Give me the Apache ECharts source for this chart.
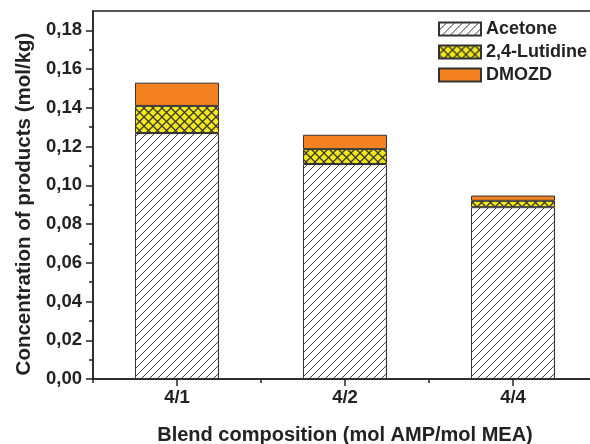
<!DOCTYPE html>
<html>
<head>
<meta charset="utf-8">
<script src="https://cdn.jsdelivr.net/npm/echarts@6/dist/echarts.min.js"></script>
<style>html,body{margin:0;padding:0;background:#fff;overflow:hidden;width:590px;height:444px}#c{width:597px;height:444px}</style>
</head>
<body>
<div id="c"></div>
<script>
const categories = ['4/1', '4/2', '4/4'];
const acetone = [0.127, 0.111, 0.0887];
const lutidine = [0.014, 0.0077, 0.0033];
const dmozd = [0.012, 0.0074, 0.0027];
const yTicks = [0, 0.02, 0.04, 0.06, 0.08, 0.10, 0.12, 0.14, 0.16, 0.18];

function hatch() {
  const s = 8, c = document.createElement('canvas');
  c.width = s; c.height = s;
  const g = c.getContext('2d');
  g.fillStyle = '#fff'; g.fillRect(0, 0, s, s);
  g.strokeStyle = '#3a3a3a'; g.lineWidth = 1;
  g.beginPath();
  g.moveTo(-1, s + 1); g.lineTo(s + 1, -1);
  g.moveTo(-1, 1); g.lineTo(1, -1);
  g.moveTo(s - 1, s + 1); g.lineTo(s + 1, s - 1);
  g.stroke();
  return c;
}
function cross() {
  const s = 9, c = document.createElement('canvas');
  c.width = s; c.height = s;
  const g = c.getContext('2d');
  g.fillStyle = '#f2e81c'; g.fillRect(0, 0, s, s);
  g.strokeStyle = '#3a3a2a'; g.lineWidth = 1.3;
  g.beginPath();
  g.moveTo(-1, s + 1); g.lineTo(s + 1, -1);
  g.moveTo(-1, -1); g.lineTo(s + 1, s + 1);
  g.stroke();
  return c;
}

const FONT = 'Liberation Sans, Arial, sans-serif';
const chart = echarts.init(document.getElementById('c'), null, {renderer: 'canvas'});
const border = {borderColor: '#333', borderWidth: 1};
chart.setOption({
  animation: false,
  backgroundColor: '#fff',
  grid: {left: 93, top: 11, right: 0, bottom: 65, outerBoundsMode: 'none', containLabel: false,
    show: true, borderColor: '#222', borderWidth: 1.5},
  legend: {
    orient: 'vertical', left: 433, top: 15, itemWidth: 42, itemHeight: 13, itemGap: 5,
    icon: 'rect',
    textStyle: {fontFamily: FONT, fontWeight: 'bold', fontSize: 18, color: '#222'},
    data: ['Acetone', '2,4-Lutidine', 'DMOZD']
  },
  xAxis: [{
    type: 'category', data: categories,
    name: 'Blend composition (mol AMP/mol MEA)', nameLocation: 'middle', nameGap: 46,
    nameTextStyle: {fontFamily: FONT, fontWeight: 'bold', fontSize: 20, color: '#222'},
    axisLine: {lineStyle: {color: '#222', width: 1.5}},
    axisTick: {show: true, alignWithLabel: true, length: 7, lineStyle: {color: '#222', width: 1.5}},
    axisLabel: {margin: 9, fontFamily: FONT, fontWeight: 'bold', fontSize: 18.5, color: '#222'}
  }, {
    type: 'category', data: categories, position: 'bottom',
    axisLine: {show: false},
    axisTick: {show: true, length: 4, lineStyle: {color: '#222', width: 1.5}},
    axisLabel: {show: false}
  }],
  yAxis: {
    type: 'value', min: 0, max: 0.19, interval: 0.02,
    name: 'Concentration of products (mol/kg)', nameLocation: 'middle', nameGap: 51,
    nameTextStyle: {fontFamily: FONT, fontWeight: 'bold', fontSize: 20.5, color: '#222', padding: [0, 18, 0, 0]},
    splitLine: {show: false},
    axisLine: {show: true, lineStyle: {color: '#222', width: 1.5}},
    axisTick: {show: true, length: 7, customValues: yTicks, lineStyle: {color: '#222', width: 1.5}},
    minorTick: {show: true, splitNumber: 2, length: 4, lineStyle: {color: '#222', width: 1.5}},
    axisLabel: {margin: 11, customValues: yTicks, fontFamily: FONT, fontWeight: 'bold', fontSize: 18.5, color: '#222',
      formatter: v => v.toFixed(2).replace('.', ',')}
  },
  series: [
    {name: 'Acetone', type: 'bar', stack: 's', barWidth: '50%', data: acetone,
     itemStyle: Object.assign({color: {image: hatch(), repeat: 'repeat'}}, border)},
    {name: '2,4-Lutidine', type: 'bar', stack: 's', barWidth: '50%', data: lutidine,
     itemStyle: Object.assign({color: {image: cross(), repeat: 'repeat'}}, border)},
    {name: 'DMOZD', type: 'bar', stack: 's', barWidth: '50%', data: dmozd,
     itemStyle: Object.assign({color: '#f58220'}, border)}
  ]
});
</script>
</body>
</html>
